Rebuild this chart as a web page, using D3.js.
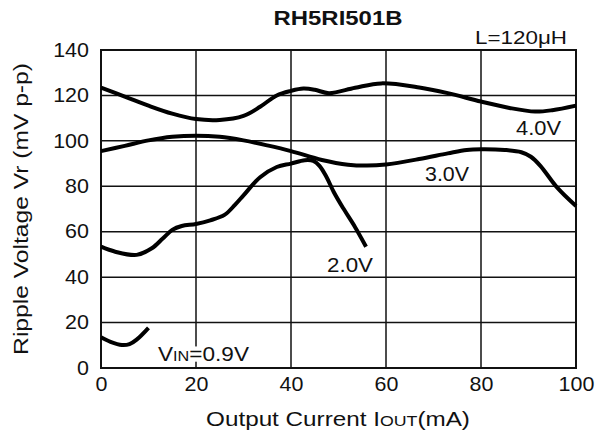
<!DOCTYPE html>
<html><head><meta charset="utf-8">
<script src="https://cdn.jsdelivr.net/npm/d3@7"></script>
<style>body{margin:0;background:#fff}svg{display:block;font-family:"Liberation Sans",Arial,sans-serif}</style>
</head><body><svg id="c" width="601" height="436"></svg>
<script>
const xTicks = [0, 20, 40, 60, 80, 100];
const yTicks = [0, 20, 40, 60, 80, 100, 120, 140];
const seriesNames = ["4.0V", "3.0V", "2.0V", "0.9V"];
const v40 = [[0,123.4],[5,119.5],[10,115.5],[15,112],[20,109.6],[25,109.2],[30,111],[33.5,115],[37,120],[40,122],[42.6,123],[45,122.5],[48,121],[53.5,123.4],[59,125.3],[67,123.5],[73,121],[80,117.3],[86,114.5],[91.4,112.9],[95,113.5],[100,115.5]];
const v30 = [[0,95.5],[5,97.8],[10,100.2],[15,101.8],[20,102.3],[25,101.8],[30,100.2],[35,98],[40,95.5],[46.5,91.6],[52,89.5],[56,89.1],[60,89.6],[67,92],[73,94.5],[77,96],[80,96.3],[85,96],[88.5,95],[90.5,93],[92.5,89],[96,79.5],[100,71.3]];
const v20 = [[0,53.4],[3,51.2],[7.5,49.8],[10.7,52.7],[13,57],[15,60.8],[17,62.5],[20,63.4],[23,65],[26,67.4],[28.2,71.8],[30,76],[33.5,84],[37,88.5],[40,90],[42.9,91.5],[44.7,91.2],[46,89],[47.5,84],[49,77.5],[51,70.3],[53.5,62],[55.8,53.4]];
const v09 = [[0,13.5],[2,11.5],[4.4,10.1],[6,10.5],[7.5,12.5],[10,17.7]];

const svg = d3.select("#c");
const x = d3.scaleLinear().domain([0,100]).range([101,576]);
const y = d3.scaleLinear().domain([0,140]).range([368,50]);

// grid
svg.append("g").selectAll("line").data(xTicks).join("line")
  .attr("x1", d=>x(d)).attr("x2", d=>x(d)).attr("y1", y(0)).attr("y2", y(140))
  .attr("stroke","#111").attr("stroke-width",1.5);
svg.append("g").selectAll("line").data(yTicks).join("line")
  .attr("x1", x(0)).attr("x2", x(100)).attr("y1", d=>y(d)).attr("y2", d=>y(d))
  .attr("stroke","#111").attr("stroke-width",1.5);
svg.append("rect").attr("x",x(0)).attr("y",y(140)).attr("width",x(100)-x(0)).attr("height",y(0)-y(140))
  .attr("fill","none").attr("stroke","#111").attr("stroke-width",2);

// axes labels via d3 axes
const ax = svg.append("g").attr("transform",`translate(0,${y(0)})`).call(d3.axisBottom(x).tickValues(xTicks).tickSize(0).tickPadding(9));
const ay = svg.append("g").attr("transform",`translate(${x(0)},0)`).call(d3.axisLeft(y).tickValues(yTicks).tickSize(0).tickPadding(11));
[ax,ay].forEach(a=>{a.select(".domain").remove();a.selectAll("text").attr("font-size",19.5).attr("fill","#111").attr("font-family","Liberation Sans, Arial, sans-serif").attr("transform","scale(1.1,1)");});

// curves
const line = d3.line().x(d=>x(d[0])).y(d=>y(d[1])).curve(d3.curveCatmullRom.alpha(0.5));
[v40,v30,v20,v09].forEach(s=>{
  svg.append("path").attr("d",line(s)).attr("fill","none").attr("stroke","#000").attr("stroke-width",4).attr("stroke-linecap","butt");
});

// fitted text helper: parts = [[text,size],...]
function fitText(parts, px, py, anchor, size, targetW, rot, weight){
  const g = svg.append("g");
  const t = g.append("text").attr("font-size",size).attr("fill","#111").attr("text-anchor",anchor);
  if (weight) t.attr("font-weight",weight);
  parts.forEach(p=>{const s=t.append("tspan").text(p[0]); if(p[1]) s.attr("font-size",p[1]);});
  const w = t.node().getComputedTextLength();
  const sx = targetW ? targetW/w : 1;
  g.attr("transform",`translate(${px},${py})${rot?` rotate(${rot})`:""} scale(${sx},1)`);
  return {g,t};
}
fitText([["4.0V"]],516,135,"start",19.5,45);
fitText([["3.0V"]],425,181,"start",19.5,44);
fitText([["2.0V"]],327,272,"start",19.5,46);
const vin = fitText([["V"],["IN",14],["=0.9V"]],158,361,"start",19.5,91);
const bb = vin.t.node().getBBox();
vin.g.insert("rect",()=>vin.t.node()).attr("x",bb.x-2).attr("y",bb.y+3).attr("width",bb.width+4).attr("height",bb.height-6).attr("fill","#fff");

// title
fitText([["RH5RI501B"]],338,25,"middle",21,129,0,"bold");
fitText([["L=120μH"]],567,44,"end",19,92);
// x title
fitText([["Output Current I"],["OUT",15],["(mA)"]],338,426,"middle",20.5,264);
// y title
fitText([["Ripple Voltage Vr (mV p-p)"]],28,209,"middle",20.5,292,-90);
</script></body></html>
